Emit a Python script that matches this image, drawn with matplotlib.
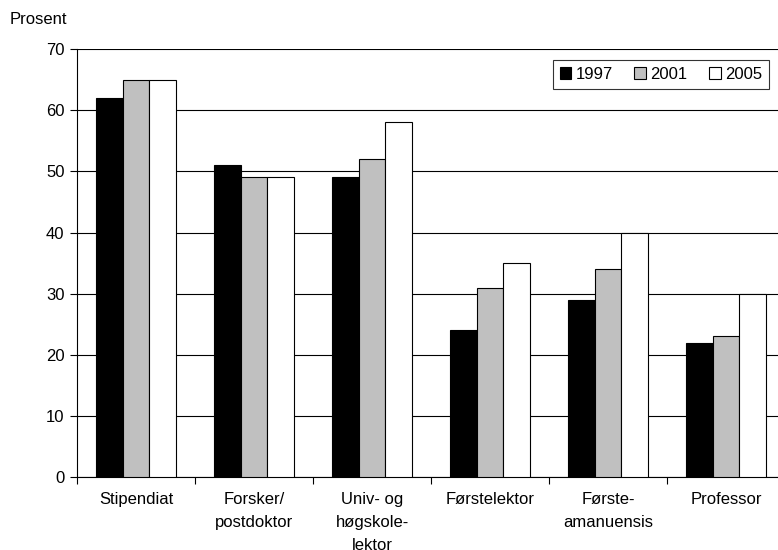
import numpy as np
import matplotlib
matplotlib.use('Agg')
import matplotlib.pyplot as plt

plt.rcParams['font.family'] = ['Liberation Sans', 'DejaVu Sans']

categories = ['Stipendiat', 'Forsker/\npostdoktor', 'Univ- og\nhøgskole-\nlektor',
              'Førstelektor', 'Første-\namanuensis', 'Professor']
years = ['1997', '2001', '2005']
v1997 = [62, 51, 49, 24, 29, 22]
v2001 = [65, 49, 52, 31, 34, 23]
v2005 = [65, 49, 58, 35, 40, 30]
colors = ['black', '#c0c0c0', 'white']

fig = plt.figure(figsize=(7.78, 5.5), dpi=100)
# plot area runs past the right edge of the figure, as in the original
ax = fig.add_axes([0.099, 0.1327, 0.910, 0.778])

x = np.arange(len(categories))
w = 0.226
for i, (vals, lab) in enumerate(zip([v1997, v2001, v2005], years)):
    ax.bar(x + (i - 1) * w, vals, w, color=colors[i], edgecolor='black',
           linewidth=0.8, label=lab, zorder=3)

ax.set_xlim(-0.5, len(categories) - 0.5)
ax.set_ylim(0, 70)
ax.set_yticks(range(0, 71, 10))
ax.yaxis.grid(True, color='black', linewidth=0.8, zorder=0)
ax.set_axisbelow(True)

# ticks between the categories, labels centred under them
ax.set_xticks(np.arange(len(categories) + 1) - 0.5)
ax.set_xticklabels([])
ax.set_xticks(x, minor=True)
ax.set_xticklabels(categories, minor=True, linespacing=1.65)
ax.tick_params(axis='x', which='minor', length=0, pad=11)
ax.tick_params(axis='x', which='major', length=5, direction='out')
ax.tick_params(axis='y', length=5, direction='out', pad=4)
ax.tick_params(labelsize=12)
for lbl in ax.get_xticklabels(minor=True):
    lbl.set_fontsize(12)

for s in ['top', 'right']:
    ax.spines[s].set_visible(False)

fig.text(0.013, 0.965, 'Prosent', fontsize=12, va='center')

leg = ax.legend(loc='upper right', bbox_to_anchor=(0.977, 0.974), borderaxespad=0,
                ncol=3, frameon=True, fancybox=False, edgecolor='black', fontsize=12,
                handlelength=0.7, handleheight=0.7, handletextpad=0.25,
                columnspacing=1.3, borderpad=0.4)
leg.get_frame().set_linewidth(0.8)

fig.savefig('out.png', dpi=100)
